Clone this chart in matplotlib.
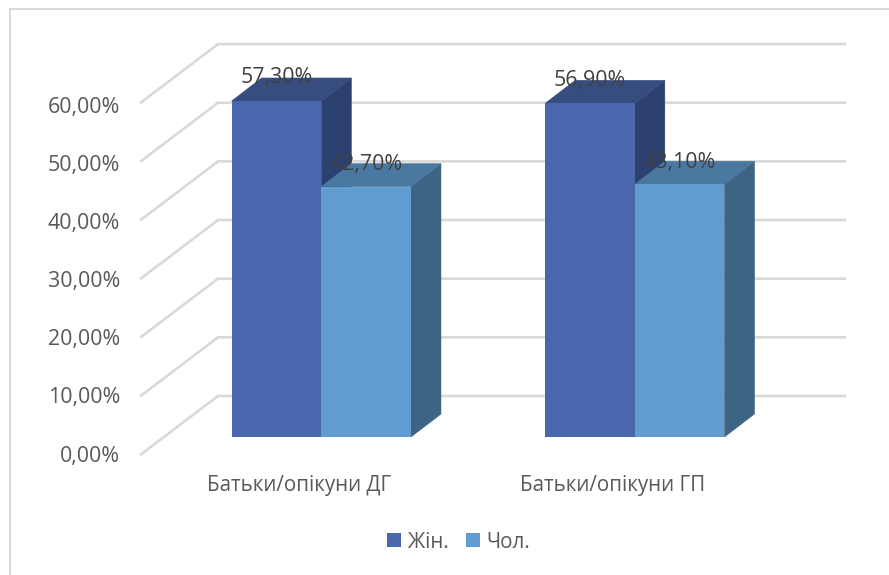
import matplotlib
matplotlib.use("Agg")
import matplotlib.pyplot as plt
from matplotlib.lines import Line2D
from matplotlib.patches import Polygon

# Survey shares by respondent group
categories = ["Батьки/опікуни ДГ", "Батьки/опікуни ГП"]
series_names = ["Жін.", "Чол."]
women = [57.3, 56.9]
men = [42.7, 43.1]
grid_values = [0, 10, 20, 30, 40, 50, 60]

# Face colours for the pseudo-3D columns: front, top, side
WOMEN_COLORS = ("#4A66AC", "#374D80", "#2D4170")
MEN_COLORS = ("#629DD1", "#4A78A0", "#3E6485")
GRID = "#D9D9D9"

W, H = 889, 575
fig = plt.figure(figsize=(W / 100, H / 100), dpi=100, facecolor="white")
ax = fig.add_axes([0, 0, 1, 1])
ax.set_xlim(-1.0249, 1.8108)
ax.set_ylim(-23.53, 74.52)
ax.axis("off")

BAR_W = 0.286
DEPTH_X, DEPTH_Y = 0.0957, 3.92
FLOOR_FRONT_X, FLOOR_BACK_X, WALL_RIGHT_X = -0.578, -0.3295, 1.674
FLOOR_FRONT_Y, FLOOR_BACK_Y = -3.07, 7.0
LABEL_STEP = 0.9907  # axis labels are spaced a touch tighter than the gridlines
FONT = "Open Sans"

# Chart frame
for xs, ys in (((9.5 / W, 1), (1 - 9 / H, 1 - 9 / H)), ((9.5 / W, 9.5 / W), (0, 1 - 9 / H))):
    fig.add_artist(Line2D(xs, ys, color=GRID, lw=1.4, transform=fig.transFigure))

# Gridlines run across the floor edge and then along the back wall
for v in grid_values:
    ax.plot([FLOOR_FRONT_X, FLOOR_BACK_X, WALL_RIGHT_X],
            [v + FLOOR_FRONT_Y, v + FLOOR_BACK_Y, v + FLOOR_BACK_Y],
            color=GRID, lw=1.9, solid_joinstyle="miter", solid_capstyle="butt", zorder=1)
    ax.text(-0.642, v * LABEL_STEP + FLOOR_FRONT_Y - 0.17, f"{v:.2f}%".replace(".", ","), ha="right",
            va="center", fontsize=15.4, color="#595959", family=FONT)


def draw_column(x_left, value, colors, zorder):
    """Draw a column's side and top faces; the front comes from ax.bar."""
    x_right = x_left + BAR_W
    ax.add_patch(Polygon([(x_right, 0), (x_right + DEPTH_X, DEPTH_Y),
                          (x_right + DEPTH_X, value + DEPTH_Y), (x_right, value)],
                         closed=True, fc=colors[2], ec=colors[2], lw=0.4, zorder=zorder))
    ax.add_patch(Polygon([(x_left, value), (x_right, value),
                          (x_right + DEPTH_X, value + DEPTH_Y), (x_left + DEPTH_X, value + DEPTH_Y)],
                         closed=True, fc=colors[1], ec=colors[1], lw=0.4, zorder=zorder))


# Side and top faces stack left to right; all front faces go above them
handles = []
for s, (name, values, colors) in enumerate(zip(series_names, (women, men), (WOMEN_COLORS, MEN_COLORS))):
    offset = -BAR_W if s == 0 else 0
    xs = [i + offset for i in range(len(categories))]
    bars = ax.bar(xs, values, width=BAR_W, align="edge", color=colors[0],
                  edgecolor="none", zorder=5, label=name)
    handles.append(bars)
    for x, v in zip(xs, values):
        draw_column(x, v, colors, 2 + s)

# Value labels sit in front of every column
for s, values in enumerate((women, men)):
    offset = -BAR_W / 2 if s == 0 else BAR_W / 2
    for i, v in enumerate(values):
        ax.text(i + offset, v + (3.95 if s == 0 else 3.7), f"{v:.2f}%".replace(".", ","), ha="center", va="center",
                fontsize=15.4, color="#404040", family=FONT, zorder=10)

# Category names sit slightly left of the column pair
for i, name in enumerate(categories):
    ax.text(i - 0.07, -8.2, name, ha="center", va="center", fontsize=14.8,
            color="#595959", family=FONT)

legend = ax.legend(handles=handles, loc="center", bbox_to_anchor=(458.5 / W, 1 - 542 / H),
                   ncol=2, frameon=False, bbox_transform=fig.transFigure,
                   prop={"family": FONT, "size": 14.8}, labelcolor="#595959",
                   handlelength=0.68, handleheight=0.68, handletextpad=0.3,
                   columnspacing=0.85, borderpad=0, borderaxespad=0)

fig.savefig("out.png", dpi=100)
